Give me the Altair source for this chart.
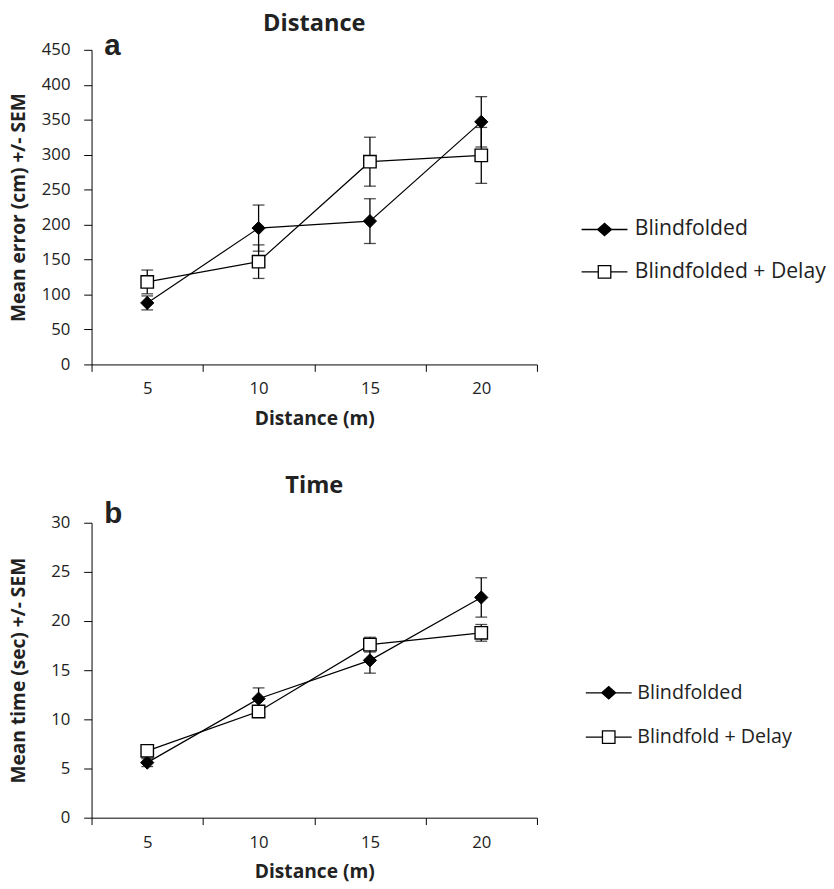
import altair as alt
import pandas as pd

# ---- data ----
distance_m = [5, 10, 15, 20]

names_a = ["Blindfolded", "Blindfolded + Delay"]
err_blind = [88, 195, 205, 347]
err_blind_sem = [10, 33, 32, 36]
err_delay = [118, 147, 290, 299]
err_delay_sem = [17, 24, 35, 40]

names_b = ["Blindfolded", "Blindfold + Delay"]
time_blind = [5.6, 12.1, 16.0, 22.4]
time_blind_sem = [0.4, 1.1, 1.3, 2.0]
time_delay = [6.8, 10.8, 17.6, 18.8]
time_delay_sem = [0.45, 0.5, 0.75, 0.85]

x_tick_values = [2.5, 7.5, 12.5, 17.5, 22.5]
y_ticks_a = list(range(0, 451, 50))
y_ticks_b = list(range(0, 31, 5))

FONT = "Open Sans"
TXT = "#222222"

# legend symbols: line + marker, as custom symbol paths
PATH_DIAMOND = "M-3.3,0H3.3M-1,0L0,-0.88L1,0L0,0.88Z"
PATH_SQUARE = "M-3.3,0H-0.9M0.9,0H3.3M-0.9,-0.9H0.9V0.9H-0.9Z"


def make_df(names, m1, s1, m2, s2):
    rows = []
    for name, means, sems in ((names[0], m1, s1), (names[1], m2, s2)):
        for x, m, s in zip(distance_m, means, sems):
            rows.append({"x": x, "series": name, "mean": m, "lo": m - s, "hi": m + s})
    return pd.DataFrame(rows)


def panel(df, names, ymax, yticks, ytitle, title, title_offset, letter, letter_y,
          height, leg_x, leg_y, row_pad, leg_font, leg_label_offset):
    width = 453
    half_band = width / 20 * 2.5
    xscale = alt.Scale(domain=[2.5, 22.5], nice=False, zero=False)
    xaxis = alt.Axis(
        values=x_tick_values,
        labelExpr="datum.value > 20 ? '' : format(datum.value + 2.5, 'd')",
        labelOffset=half_band,
        labelFlush=False,
        labelOverlap=False,
        tickSize=7,
        labelPadding=10,
        titlePadding=13,
        title="Distance (m)",
    )
    yscale = alt.Scale(domain=[0, ymax], nice=False, zero=True)
    yaxis = alt.Axis(
        values=yticks,
        tickSize=8,
        labelPadding=14,
        title=ytitle,
        titleX=-74.5,
        titleY=height / 2,
        titleBaseline="middle",
        titleAngle=-90,
    )
    X = alt.X("x:Q", scale=xscale, axis=xaxis)
    base = alt.Chart(df)

    lines = base.mark_line(color="black", strokeWidth=1.2).encode(
        x=X,
        y=alt.Y("mean:Q", scale=yscale, axis=yaxis),
        detail="series:N",
        order="x:Q",
    )
    bars = base.mark_errorbar(
        ticks={"size": 12, "color": "black", "strokeWidth": 1.3},
        color="black",
        thickness=1.3,
    ).encode(
        x=X,
        y=alt.Y("lo:Q", scale=yscale, axis=yaxis),
        y2="hi:Q",
    )
    diamonds = base.transform_filter(alt.datum.series == names[0]).mark_point(
        shape="diamond", size=180, filled=True, fill="black", stroke="black",
        strokeWidth=1, opacity=1,
    ).encode(x=X, y=alt.Y("mean:Q", scale=yscale, axis=yaxis))
    squares = base.transform_filter(alt.datum.series == names[1]).mark_point(
        shape="square", size=160, filled=True, fill="white", stroke="black",
        strokeWidth=1.4, opacity=1,
    ).encode(x=X, y=alt.Y("mean:Q", scale=yscale, axis=yaxis))

    leg = alt.Legend(
        orient="none",
        legendX=leg_x,
        legendY=leg_y,
        title=None,
        symbolSize=200,
        symbolStrokeWidth=1.3,
        labelFont=FONT,
        labelFontSize=leg_font,
        labelColor=TXT,
        labelOffset=leg_label_offset,
        labelLimit=400,
        rowPadding=row_pad,
        padding=0,
    )
    legend_layer = base.transform_filter("false").mark_point(
        filled=True, strokeWidth=1.3, opacity=1
    ).encode(
        x=X,
        y=alt.Y("mean:Q", scale=yscale, axis=yaxis),
        shape=alt.Shape("series:N", scale=alt.Scale(domain=names, range=[PATH_DIAMOND, PATH_SQUARE]), legend=leg),
        fill=alt.Fill("series:N", scale=alt.Scale(domain=names, range=["black", "white"]), legend=leg),
        stroke=alt.Stroke("series:N", scale=alt.Scale(domain=names, range=["black", "black"]), legend=leg),
    )

    letter_df = pd.DataFrame({"t": [letter]})
    letter_mark = alt.Chart(letter_df).mark_text(
        font="Liberation Sans", fontWeight="bold", fontSize=30, align="left",
        baseline="alphabetic", color=TXT,
    ).encode(text="t:N", x=alt.value(13), y=alt.value(letter_y))

    return alt.layer(lines, bars, diamonds, squares, legend_layer, letter_mark).properties(
        width=width,
        height=height,
        title=alt.TitleParams(title, font=FONT, fontSize=24, fontWeight="bold",
                              color=TXT, anchor="middle", offset=title_offset),
    )


df_a = make_df(names_a, err_blind, err_blind_sem, err_delay, err_delay_sem)
df_b = make_df(names_b, time_blind, time_blind_sem, time_delay, time_delay_sem)

top = panel(df_a, names_a, 450, y_ticks_a, "Mean error (cm) +/- SEM", "Distance", -5, "a", 5,
            320, 511, 172, 20, 21.5, 20)
bottom = panel(df_b, names_b, 30, y_ticks_b, "Mean time (sec) +/- SEM", "Time", 1, "b", 0,
               300, 516, 163, 25, 20, 19)

chart = alt.vconcat(top, bottom, spacing=47).resolve_scale(
    x="independent", y="independent", shape="independent", fill="independent",
    stroke="independent",
).resolve_legend(shape="independent", fill="independent", stroke="independent").properties(
    padding={"left": 0, "top": -3, "right": 0, "bottom": 0}
).configure_view(stroke=None).configure_axis(
    grid=False,
    domainColor="black",
    domainWidth=1,
    tickColor="black",
    tickWidth=1,
    labelFont=FONT,
    labelFontSize=17,
    labelColor=TXT,
    titleFont=FONT,
    titleFontSize=19.5,
    titleFontWeight="bold",
    titleColor=TXT,
)

chart.save("out.html", embed_options={"renderer": "svg", "actions": False})
